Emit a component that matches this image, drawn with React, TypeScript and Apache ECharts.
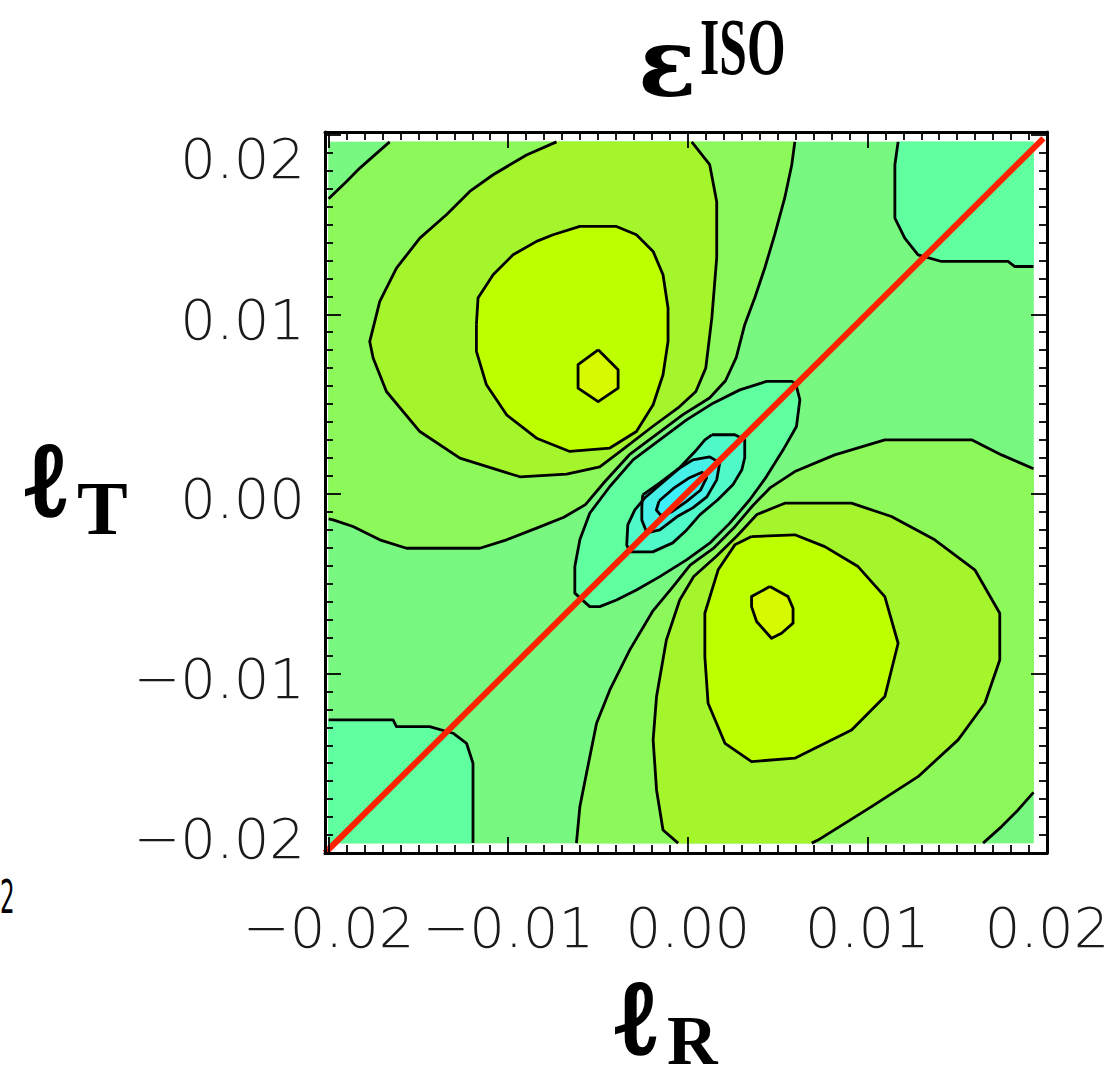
import React, { useEffect, useRef } from "react";
import * as echarts from "echarts";

// All contour coordinates below are in units of 0.001.
const UNIT = 0.001;

const X_MIN = -20.2, X_MAX = 20.0, Y_MIN = -20.0, Y_MAX = 20.15;
const FILL_X0 = -20.0, FILL_X1 = 19.25, FILL_Y0 = -19.45, FILL_Y1 = 19.6;

const MAJOR_TICKS = [-20, -10, 0, 10, 20];
const TICK_LABELS = ["\u22120.02", "\u22120.01", "0.00", "0.01", "0.02"];
const MINOR_TICKS: number[] = [];
for (let k = -20; k <= 20; k++) if (k % 10 !== 0) MINOR_TICKS.push(k);

const RED_LINE = [[-20.2, -20.0], [19.8, 19.8]];

// corner contours
const TL_CORNER = [[-20.0, 16.43], [-19.0, 17.4], [-18.26, 18.14], [-17.52, 18.79], [-16.6, 19.6]];
const BR_CORNER = [[19.25, -16.62], [18.39, -17.6], [17.47, -18.53], [16.44, -19.45]];
const TR_CORNER = [[11.71, 19.6], [11.53, 18.33], [11.53, 15.36], [12.08, 14.24], [12.82, 13.31], [14.13, 12.94], [17.83, 12.94], [18.21, 12.66], [19.25, 12.66]];
const BL_CORNER = [[-20.0, -12.59], [-16.41, -12.59], [-16.22, -12.96], [-14.37, -12.96], [-13.07, -13.33], [-12.32, -13.89], [-11.96, -15.0], [-11.96, -19.45]];

// upper-left lobe
const L1_UL = [[-20.0, -1.39], [-19.75, -1.45], [-18.64, -1.82], [-17.15, -2.56], [-15.66, -3.03], [-11.58, -3.03], [-10.09, -2.56], [-8.42, -1.91], [-6.9, -1.3], [-5.7, -0.6], [-4.6, 0.7], [-3.25, 2.18], [-1.76, 3.3], [-0.27, 4.41], [1.21, 5.34], [2.1, 6.3], [2.7, 7.6], [3.17, 9.42], [3.73, 10.92], [4.29, 12.59], [4.84, 14.43], [5.4, 16.49], [5.79, 18.33], [5.96, 19.6]];
const L2_UL = [[-7.31, 19.6], [-8.98, 18.87], [-10.84, 17.77], [-12.14, 16.84], [-13.44, 15.54], [-14.92, 14.24], [-16.22, 12.57], [-17.15, 10.72], [-17.71, 8.48], [-17.52, 7.56], [-16.78, 5.7], [-14.92, 3.47], [-12.69, 1.99], [-9.35, 0.95], [-6.75, 1.1], [-4.9, 1.5], [-3.45, 2.6], [-1.96, 3.75], [-0.47, 4.85], [0.45, 5.7], [1.0, 7.0], [1.34, 9.81], [1.61, 13.15], [1.61, 16.27], [1.22, 18.33], [0.22, 19.6]];
const L3_UL = [[-11.77, 9.42], [-11.68, 10.9], [-10.84, 12.2], [-9.73, 13.31], [-8.42, 14.06], [-7.5, 14.43], [-6.01, 14.89], [-3.97, 14.89], [-2.86, 14.43], [-1.93, 13.5], [-1.38, 12.2], [-1.1, 10.35], [-1.1, 8.49], [-1.38, 6.63], [-1.93, 4.96], [-2.86, 3.47], [-4.34, 2.55], [-6.57, 2.36], [-8.42, 3.1], [-10.09, 4.4], [-11.21, 6.07], [-11.77, 7.93]];
const L4_UL = [[-4.99, 8.02], [-3.88, 6.91], [-3.88, 5.89], [-4.99, 5.14], [-6.11, 5.89], [-6.11, 7.19]];

// lower-right lobe
const L1_LR = [[19.25, 1.4], [17.47, 2.17], [15.8, 3.01], [10.97, 3.01], [8.18, 2.17], [5.96, 1.24], [4.6, 0.35], [3.65, -0.62], [2.54, -1.92], [1.42, -3.04], [0.13, -3.97], [-0.82, -5.16], [-1.93, -6.5], [-3.23, -8.69], [-4.34, -10.92], [-5.08, -12.77], [-5.64, -15.56], [-6.01, -17.42], [-6.2, -19.45]];
const L2_LR = [[-0.54, -19.45], [-1.38, -18.72], [-1.74, -16.49], [-1.93, -13.7], [-1.74, -11.29], [-1.19, -8.13], [-0.45, -5.91], [0.33, -4.6], [1.62, -3.45], [2.74, -2.35], [3.85, -1.15], [5.4, -0.52], [9.11, -0.52], [11.34, -1.26], [13.75, -2.56], [15.98, -4.23], [17.37, -6.65], [17.37, -9.25], [16.54, -11.66], [15.05, -13.7], [12.82, -15.75], [10.23, -17.42], [7.25, -19.28], [6.9, -19.45]];
const L3_LR = [[3.55, -2.38], [5.96, -2.28], [7.63, -2.94], [9.48, -4.05], [10.97, -5.72], [11.71, -8.32], [10.97, -11.29], [9.12, -13.15], [5.96, -14.72], [3.55, -14.91], [2.07, -13.89], [1.13, -11.66], [0.95, -9.06], [0.95, -6.65], [1.69, -4.23], [2.62, -2.84]];
const L4_LR = [[4.57, -5.16], [5.58, -5.72], [5.86, -6.37], [5.86, -7.2], [5.22, -7.76], [4.66, -8.04], [3.83, -7.11], [3.55, -6.28], [3.55, -5.72]];

// central valley
const E1 = [[5.85, 6.26], [4.38, 6.26], [2.9, 5.79], [1.41, 5.05], [-0.07, 4.12], [-1.56, 3.01], [-3.05, 1.89], [-4.34, 0.41], [-5.46, -1.08], [-6.01, -2.56], [-6.29, -4.05], [-6.29, -5.53], [-5.46, -6.28], [-4.9, -6.28], [-3.97, -5.91], [-2.86, -5.35], [-1.56, -4.61], [-0.07, -3.68], [1.22, -2.75], [2.34, -1.63], [3.45, -0.33], [4.38, 0.96], [5.31, 2.45], [6.05, 3.75], [6.24, 5.24], [6.05, 5.98]];
const E2 = [[1.34, 3.29], [2.62, 3.29], [3.17, 3.01], [3.17, 2.01], [3.01, 1.34], [2.51, 0.5], [1.67, -0.33], [0.67, -1.17], [-0.06, -2.01], [-0.84, -2.73], [-1.95, -3.23], [-3.23, -3.23], [-3.4, -2.84], [-3.34, -1.73], [-2.95, -0.89], [-2.39, -0.22], [-1.56, 0.5], [-0.56, 1.34], [0.39, 2.34], [0.95, 3.01]];
const E3 = [[-2.51, -0.06], [-1.56, 0.61], [-0.61, 1.34], [0.28, 1.89], [1.22, 2.06], [1.78, 1.73], [1.61, 0.78], [1.06, -0.17], [0.28, -0.78], [-0.61, -1.28], [-1.56, -2.01], [-2.28, -2.17], [-2.56, -1.45], [-2.56, -0.72]];
const E4 = [[-1.6, -0.4], [-0.8, 0.3], [0.1, 0.9], [0.8, 1.2], [1.05, 0.9], [0.7, 0.2], [-0.1, -0.45], [-0.9, -1.0], [-1.5, -1.2], [-1.75, -0.9]];

const LEVEL_COLORS: Record<string, string> = {
  m4: "#3cf0fa",
  m3: "#46f0e6",
  m2: "#50fac8",
  m1: "#60ffa0",
  z0: "#78f880",
  p1: "#8cf85a",
  p2: "#a5f52d",
  p3: "#beff00",
  p4: "#d7fa00",
};

function rev(a: number[][]) {
  return a.slice().reverse();
}

function buildOption() {
  const fillRect = [[FILL_X0, FILL_Y0], [FILL_X1, FILL_Y0], [FILL_X1, FILL_Y1], [FILL_X0, FILL_Y1]];
  const regions = [
    { pts: fillRect, color: LEVEL_COLORS.z0 },
    { pts: [...L1_UL, ...rev(TL_CORNER)], color: LEVEL_COLORS.p1 },
    { pts: [...L1_LR, ...rev(BR_CORNER)], color: LEVEL_COLORS.p1 },
    { pts: L2_UL, color: LEVEL_COLORS.p2 },
    { pts: L2_LR, color: LEVEL_COLORS.p2 },
    { pts: L3_UL, color: LEVEL_COLORS.p3 },
    { pts: L3_LR, color: LEVEL_COLORS.p3 },
    { pts: L4_UL, color: LEVEL_COLORS.p4 },
    { pts: L4_LR, color: LEVEL_COLORS.p4 },
    { pts: [...TR_CORNER, [FILL_X1, FILL_Y1]], color: LEVEL_COLORS.m1 },
    { pts: [...BL_CORNER, [FILL_X0, FILL_Y0]], color: LEVEL_COLORS.m1 },
    { pts: E1, color: LEVEL_COLORS.m1 },
    { pts: E2, color: LEVEL_COLORS.m2 },
    { pts: E3, color: LEVEL_COLORS.m3 },
    { pts: E4, color: LEVEL_COLORS.m4 },
  ];
  const lines = [
    { pts: TL_CORNER, closed: false },
    { pts: BR_CORNER, closed: false },
    { pts: TR_CORNER, closed: false },
    { pts: BL_CORNER, closed: false },
    { pts: L1_UL, closed: false },
    { pts: L1_LR, closed: false },
    { pts: L2_UL, closed: false },
    { pts: L2_LR, closed: false },
    { pts: L3_UL, closed: true },
    { pts: L3_LR, closed: true },
    { pts: L4_UL, closed: true },
    { pts: L4_LR, closed: true },
    { pts: E1, closed: true },
    { pts: E2, closed: true },
    { pts: E3, closed: true },
    { pts: E4, closed: true },
  ];

  const labelFont = { fontFamily: "DejaVu Sans", fontSize: 56, color: "#1a1a1a", fontWeight: 200 };
  const labelFor = (v: number) => {
    const i = MAJOR_TICKS.findIndex((t) => Math.abs(t * UNIT - v) < 1e-9);
    return i >= 0 ? TICK_LABELS[i] : "";
  };
  const major = MAJOR_TICKS.map((v) => v * UNIT);
  const minor = MINOR_TICKS.map((v) => v * UNIT);

  const mkAxis = (
    isX: boolean,
    position: string,
    ticks: number[],
    len: number,
    showLine: boolean,
    label: any
  ) => ({
    type: "value",
    position,
    min: (isX ? X_MIN : Y_MIN) * UNIT,
    max: (isX ? X_MAX : Y_MAX) * UNIT,
    z: 10,
    axisLine: { show: showLine, onZero: false, lineStyle: { color: "#000", width: 3 } },
    axisTick: { show: true, inside: true, length: len, customValues: ticks, lineStyle: { color: "#000", width: 1.8 } },
    axisLabel: label,
    splitLine: { show: false },
    minorTick: { show: false },
  });

  const xLabel = {
    show: true,
    customValues: major,
    margin: 46,
    lineHeight: 56,
    formatter: (v: number) => labelFor(v),
    ...labelFont,
  };
  const richBase = { fontFamily: "DejaVu Sans", fontSize: 56, color: "#1a1a1a", lineHeight: 56, fontWeight: 200 };
  const yLabel = {
    show: true,
    customValues: major,
    margin: 20,
    formatter: (v: number) => {
      const t = labelFor(v);
      if (Math.abs(v - 0.02) < 1e-9) return "{t|" + t + "}";
      if (Math.abs(v + 0.02) < 1e-9) return "{b|" + t + "}";
      return "{m|" + t + "}";
    },
    rich: {
      t: { ...richBase, padding: [48, 0, 0, 0] },
      b: { ...richBase, padding: [0, 0, 30, 0] },
      m: { ...richBase, padding: [10, 0, 0, 0] },
    },
    ...labelFont,
  };
  const noLabel = { show: false };

  const serif = '"Liberation Serif", "DejaVu Serif", serif';
  const dvSerif = '"DejaVu Serif", "Liberation Serif", serif';
  const txt = (x: number, y: number, text: string, font: string, extra: any = {}, styleExtra: any = {}) => ({
    type: "text",
    x,
    y,
    ...extra,
    style: {
      text,
      font,
      fill: "#000",
      textAlign: "left",
      textVerticalAlign: "middle",
      align: "left",
      verticalAlign: "middle",
      ...styleExtra,
    },
  });
  const heavy = { stroke: "#000", lineWidth: 3.5 };

  return {
    animation: false,
    backgroundColor: "#ffffff",
    grid: { left: 325, top: 132, width: 722, height: 721, containLabel: false },
    xAxis: [
      mkAxis(true, "bottom", major, 16, true, xLabel),
      mkAxis(true, "bottom", minor, 8, false, noLabel),
      mkAxis(true, "top", major, 16, true, noLabel),
      mkAxis(true, "top", minor, 8, false, noLabel),
    ],
    yAxis: [
      mkAxis(false, "left", major, 16, true, yLabel),
      mkAxis(false, "left", minor, 8, false, noLabel),
      mkAxis(false, "right", major, 16, true, noLabel),
      mkAxis(false, "right", minor, 8, false, noLabel),
    ],
    series: [
      {
        type: "custom",
        name: "levels",
        coordinateSystem: "cartesian2d",
        xAxisIndex: 0,
        yAxisIndex: 0,
        silent: true,
        z: 1,
        data: regions.map(() => [0, 0]),
        renderItem: (params: any, api: any) => {
          const r = regions[params.dataIndex];
          return {
            type: "polygon",
            shape: { points: r.pts.map((p) => api.coord([p[0] * UNIT, p[1] * UNIT])) },
            style: { fill: r.color, stroke: r.color, lineWidth: 0.6 },
          };
        },
      },
      {
        type: "custom",
        name: "contours",
        coordinateSystem: "cartesian2d",
        xAxisIndex: 0,
        yAxisIndex: 0,
        silent: true,
        z: 2,
        data: lines.map(() => [0, 0]),
        renderItem: (params: any, api: any) => {
          const l = lines[params.dataIndex];
          const pts = l.pts.map((p) => api.coord([p[0] * UNIT, p[1] * UNIT]));
          if (l.closed) pts.push(pts[0]);
          return {
            type: "polyline",
            shape: { points: pts },
            style: { stroke: "#000", lineWidth: 2.8, fill: "none", lineJoin: "round" },
          };
        },
      },
      {
        type: "line",
        name: "diagonal",
        xAxisIndex: 0,
        yAxisIndex: 0,
        z: 5,
        symbol: "none",
        silent: true,
        data: RED_LINE.map((p) => [p[0] * UNIT, p[1] * UNIT]),
        lineStyle: { color: "#ff2200", width: 6 },
      },
    ],
    graphic: [
      txt(638, 62, "\u03b5", "bold 96px " + dvSerif),
      txt(700, 47, "ISO", "bold 80px " + serif, { scaleX: 0.62 }),
      txt(26, 478, "\u2113", "bold 104px " + dvSerif, {}, heavy),
      txt(77, 508, "T", "bold 76px " + serif),
      txt(616, 1016, "\u2113", "bold 104px " + dvSerif, {}, heavy),
      txt(667, 1040, "R", "bold 70px " + serif),
      txt(0, 897, "2", "46px \"DejaVu Sans\"", { scaleX: 0.5 }),
    ],
  };
}

export default function App() {
  const ref = useRef<HTMLDivElement>(null);
  useEffect(() => {
    if (!ref.current) return;
    const chart = echarts.init(ref.current, null, { renderer: "svg" });
    chart.setOption(buildOption() as any);
    return () => chart.dispose();
  }, []);
  return (
    <div
      ref={ref}
      style={{ position: "fixed", left: 0, top: 0, width: 1117, height: 1077, background: "#fff" }}
    />
  );
}
